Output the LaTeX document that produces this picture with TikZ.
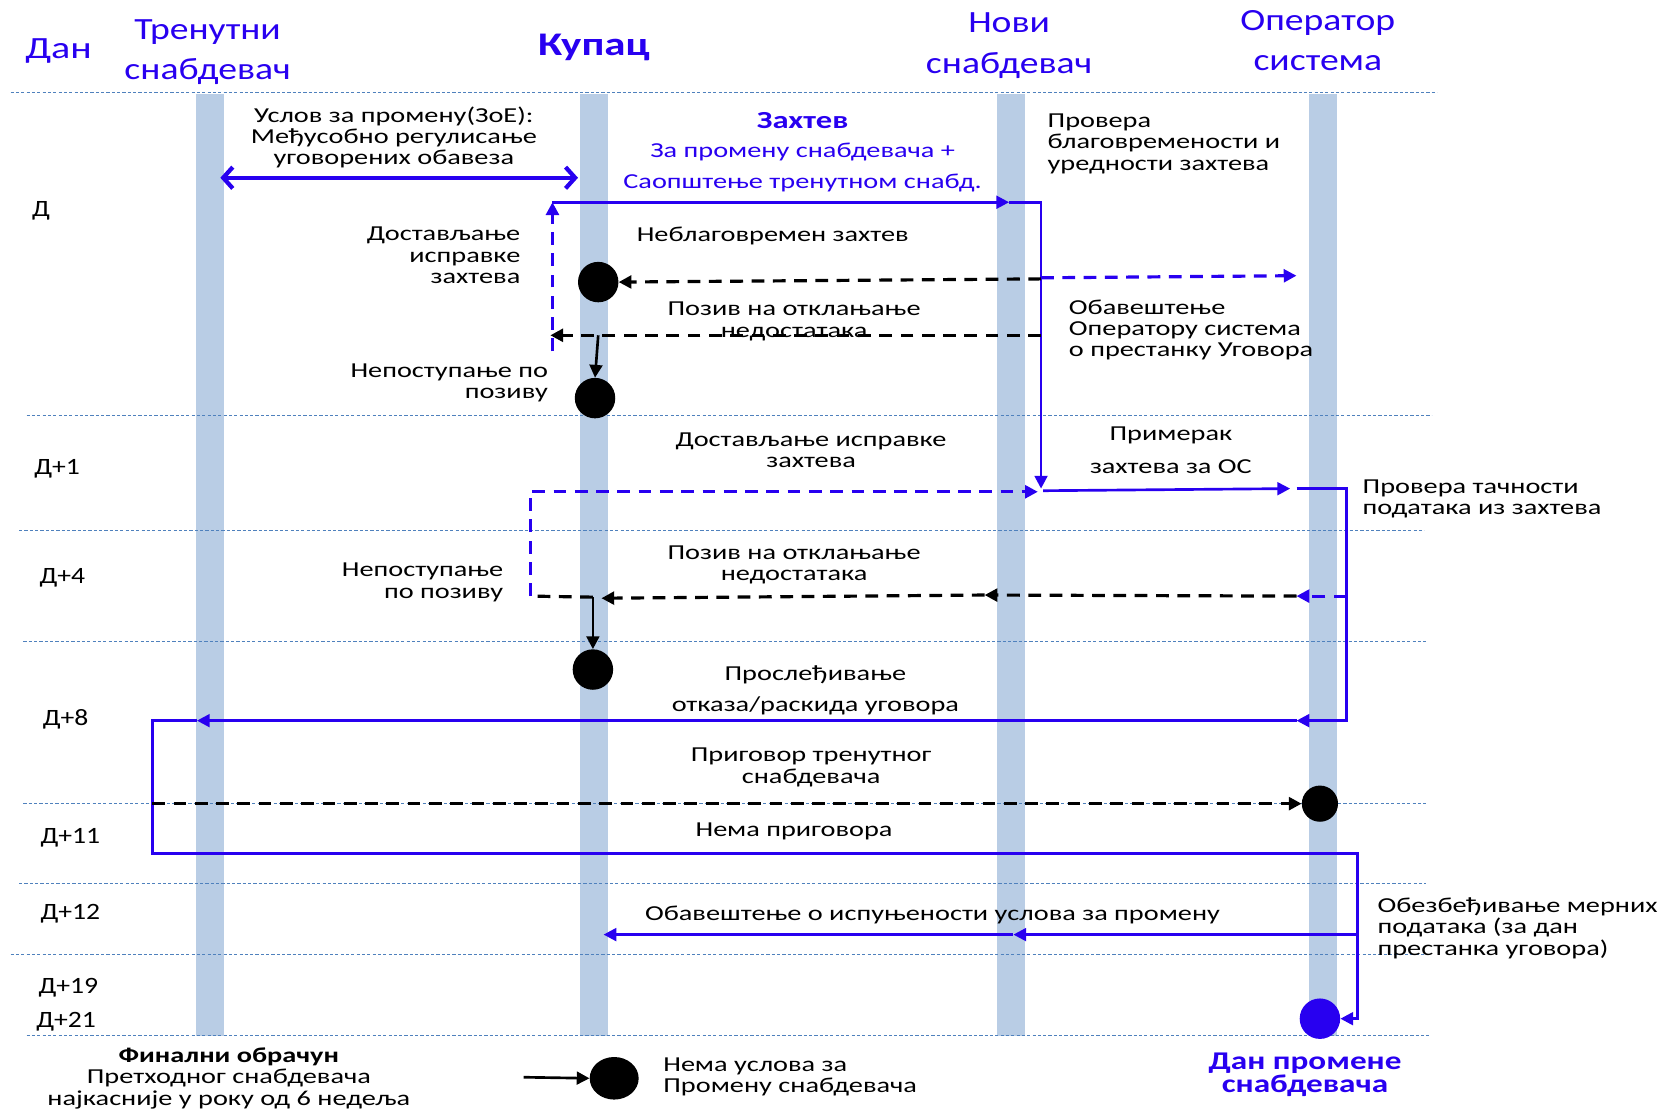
\documentclass[tikz,border=0pt]{standalone}
\usepackage{fontspec}
\setmainfont{Carlito}[FakeStretch=1.33]
\newfontfamily\hdrfont{Carlito}[FakeStretch=1.22]
\newfontfamily\dayfont{Carlito}[FakeStretch=1.18]
\newfontfamily\danfont{Carlito}[FakeStretch=1.3]
\usetikzlibrary{arrows.meta,shapes.geometric}
\definecolor{myblue}{RGB}{40,0,240}
\definecolor{barblue}{RGB}{185,205,229}
\definecolor{sepblue}{RGB}{79,129,189}
\tikzset{
  lane/.style={fill=barblue,draw=none,minimum width=26pt,minimum height=885pt,inner sep=0},
  sepline/.style={draw=sepblue,line width=1pt,dash pattern=on 3pt off 2pt},
  txt/.style={font=\fontsize{20}{20}\selectfont,text=black,inner sep=0,align=center},
  daytxt/.style={font=\dayfont\fontsize{22}{22}\selectfont,text=black,inner sep=0,anchor=west},
  hdr/.style={font=\hdrfont\fontsize{29}{38}\selectfont,text=myblue,inner sep=0,align=center},
  btxt/.style={font=\fontsize{20}{20}\selectfont,text=myblue,inner sep=0,align=center},
  bline/.style={draw=myblue,line width=2.5pt},
  kline/.style={draw=black,line width=2.5pt},
  kdash/.style={draw=black,line width=3pt,dash pattern=on 12pt off 8pt},
  bdash/.style={draw=myblue,line width=3pt,dash pattern=on 12pt off 8pt},
  dotk/.style={circle,fill=black,minimum size=38pt,inner sep=0},
  dotb/.style={circle,fill=myblue,minimum size=38pt,inner sep=0},
  tip/.style={-{Triangle[length=12pt,width=12pt]}},
}
\begin{document}
\begin{tikzpicture}[x=1pt,y=-1pt]
\useasboundingbox (0,0) rectangle (1567,1046);
% lanes
\node[lane] (barT) at (197,530.5) {};
\node[lane] (barK) at (558,530.5) {};
\node[lane] (barN) at (950,530.5) {};
\node[lane] (barO) at (1243,530.5) {};
% separators
\draw[sepline] (10,87) -- (1350,87);
\draw[sepline] (25,390) -- (1345,390);
\draw[sepline] (18,498) -- (1338,498);
\draw[sepline] (22,603) -- (1340,603);
\draw[sepline] (22,755) -- (1340,755);
\draw[sepline] (18,830) -- (1340,830);
\draw[sepline] (10,897) -- (1338,897);
\draw[sepline] (25,973) -- (1342,973);
% headers
\node[hdr,font=\danfont\fontsize{29}{38}\selectfont] (hDan) at (55,48) {Дан};
\node[hdr] (hT) at (195,49) {Тренутни\\снабдевач};
\node[hdr,font=\danfont\fontsize{31}{38}\selectfont\bfseries] (hK) at (558,45) {Купац};
\node[hdr] (hN) at (948,43) {Нови\\снабдевач};
\node[hdr] (hO) at (1238,38) {Оператор\\система};
% day labels
\node[daytxt] (dD) at (30,198) {Д};
\node[daytxt] (d1) at (32,440) {Д+1};
\node[daytxt] (d4) at (37,543) {Д+4};
\node[daytxt] (d8) at (40,676) {Д+8};
\node[daytxt] (d11) at (38,787) {Д+11};
\node[daytxt] (d12) at (38,858) {Д+12};
\node[daytxt] (d19) at (36,928) {Д+19};
\node[daytxt] (d21) at (34,960) {Д+21};
% dots
\node[dotk] (k1) at (562,265) {};
\node[dotk] (k2) at (559,374) {};
\node[dotk] (k3) at (557,629) {};
\node[dotk,minimum size=34pt] (k4) at (1240,755) {};
\node[dotb] (b5) at (1240,957) {};
\node[ellipse,fill=black,minimum width=46pt,minimum height=40pt,inner sep=0] (kl) at (577,1013) {};
% texts
\node[txt] (t1) at (370,129) {Услов за промену(ЗоЕ):\\Међусобно регулисање\\уговорених обавеза};
\node[btxt,font=\fontsize{23}{22}\selectfont\bfseries] (t2a) at (754,113) {Захтев};
\node[btxt] (t2b) at (754,143) {За промену снабдевача +};
\node[btxt] (t2c) at (754,172) {Саопштење тренутном снабд.};
\node[txt,anchor=west,align=left] (t3) at (984,135) {Провера\\благовремености и\\уредности захтева};
\node[txt] (t4) at (726,222) {Неблаговремен захтев};
\node[txt,anchor=east,align=right] (t5) at (489,240) {Достављање\\исправке\\захтева};
\node[txt] (t6) at (746,302) {Позив на отклањање\\недостатака};
\node[txt,anchor=west,align=left] (t7) at (1004,310) {Обавештење\\Оператору система\\о престанку Уговора};
\node[txt,anchor=east,align=right] (t8) at (515,360) {Непоступање по\\позиву};
\node[txt] (t9) at (762,423) {Достављање исправке\\захтева};
\node[txt] (t10a) at (1100,409) {Примерак};
\node[txt] (t10b) at (1100,438) {захтева за ОС};
\node[txt,anchor=west,align=left] (t11) at (1280,469) {Провера тачности\\података из захтева};
\node[txt,anchor=east,align=right] (t12) at (473,547) {Непоступање\\по позиву};
\node[txt] (t13) at (746,531) {Позив на отклањање\\недостатака};
\node[txt] (t14a) at (766,634) {Прослеђивање};
\node[txt] (t14b) at (766,663) {отказа/раскида уговора};
\node[txt] (t15) at (762,721) {Приговор тренутног\\снабдевача};
\node[txt] (t16) at (746,781) {Нема приговора};
\node[txt] (t17) at (876,860) {Обавештење о испуњености услова за промену};
\node[txt,anchor=west,align=left] (t18) at (1294,872) {Обезбеђивање мерних\\података (за дан\\престанка уговора)};
\node[txt] (t19) at (215,1013) {\textbf{Финални обрачун}\\Претходног снабдевача\\најкасније у року од 6 недеља};
\node[txt,anchor=west,align=left] (t20) at (623,1012) {Нема услова за\\Промену снабдевача};
\node[btxt,font=\danfont\fontsize{24}{20}\selectfont\bfseries] (t21) at (1226,1010) {Дан промене\\снабдевача};
% coordinates
\coordinate (c1) at (207,167);
\coordinate (c2) at (543,167);
\coordinate (up0) at (519,330);
\coordinate (up1) at (519,190);
\coordinate (hN1) at (948,190);
\coordinate (hN2) at (978,190);
\coordinate (vN3) at (978,459);
\coordinate (r1a) at (978,262);
\coordinate (r1b) at (978,261);
\coordinate (r1c) at (1218,259);
\coordinate (r2a) at (978,315);
\coordinate (r2b) at (517,315);
\coordinate (r2c) at (562,315);
\coordinate (e0) at (498,560);
\coordinate (e1) at (498,462);
\coordinate (e2) at (975,462);
\coordinate (e3) at (980,461);
\coordinate (e4) at (1212,459);
\coordinate (o1) at (1218,459);
\coordinate (o2) at (1265,459);
\coordinate (o3) at (1265,677);
\coordinate (o4) at (1218,677);
\coordinate (o5) at (185,677);
\coordinate (o6) at (143,677);
\coordinate (o7) at (143,802);
\coordinate (o8) at (1275,802);
\coordinate (o9) at (1275,957);
\coordinate (f0) at (1265,560);
\coordinate (f1) at (1218,560);
\coordinate (f2) at (925,559);
\coordinate (f3) at (565,562);
\coordinate (f4) at (557,561);
\coordinate (g0) at (143,755);
\coordinate (h0) at (1275,878);
\coordinate (h1) at (952,878);
\coordinate (h2) at (567,878);
\coordinate (l0) at (492,1012);
% connectors
\draw[draw=myblue,line width=4pt,{Straight Barb[length=9pt,width=20pt]}-{Straight Barb[length=9pt,width=20pt]}] (c1) -- (c2);
\draw[bdash,tip] (up0) -- (up1);
\draw[bline,tip] (up1) -- (hN1);
\draw[bline,tip] (hN1) -- (hN2) -- (vN3);
\draw[kdash,tip] (r1a) -- (k1.east);
\draw[bdash,tip] (r1b) -- (r1c);
\draw[kdash,tip] (r2a) -- (r2b);
\draw[kline,tip] (r2c) -- (k2.north);
\draw[bdash,tip] (e0) -- (e1) -- (e2);
\draw[bline,tip] (e3) -- (e4);
\draw[bline,tip] (o1) -- (o2) -- (o3) -- (o4);
\draw[bline,tip] (o4) -- (o5);
\draw[bline,tip] (o5) -- (o6) -- (o7) -- (o8) -- (o9) -- (b5.east);
\draw[bdash,tip] (f0) -- (f1);
\draw[kdash,tip] (f1) -- (f2);
\draw[kdash,tip] (f2) -- (f3);
\draw[kdash] (f4) -- (e0);
\draw[kline,tip] (f4) -- (k3.north);
\draw[kdash,tip] (g0) -- (k4.west);
\draw[bline,tip] (h0) -- (h1);
\draw[bline,tip] (h1) -- (h2);
\draw[kline,tip] (l0) -- (kl.west);
\end{tikzpicture}
\end{document}
